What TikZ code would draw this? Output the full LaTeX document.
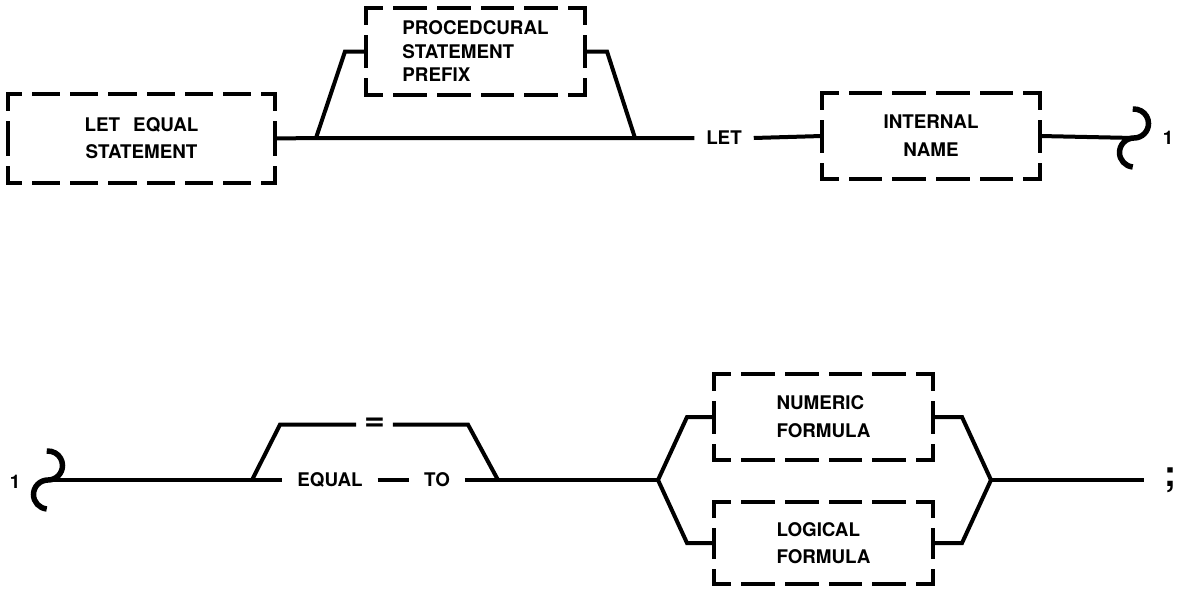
\documentclass[tikz,border=0pt]{standalone}
\usepackage{fontspec}
\usepackage{graphicx}
\setmainfont{TeX Gyre Heros}
\usetikzlibrary{calc}

% stroke width of the dashed frames
\def\bw{4.6}
% one side of a dashed frame: dashes spread evenly, a dash centred on each corner
\newcommand\dashedside[3]{%
  \pgfpointdiff{\pgfpointanchor{#1}{#2}}{\pgfpointanchor{#1}{#3}}%
  \pgfgetlastxy{\dsx}{\dsy}%
  \pgfmathsetmacro\dslen{veclen(\dsx,\dsy)}%
  \pgfmathsetmacro\dsn{max(1,round(\dslen/40))}%
  \pgfmathsetmacro\dson{\dslen/\dsn-10-\bw}%
  \pgfmathsetmacro\dsoff{10+\bw}%
  \pgfmathsetmacro\dsph{\dson/2}%
  \draw[boxline, dash pattern=on \dson pt off \dsoff pt, dash phase=\dsph pt]
    (#1.#2) -- (#1.#3);}
\newcommand\dashedframe[1]{%
  \dashedside{#1}{north west}{north east}%
  \dashedside{#1}{north east}{south east}%
  \dashedside{#1}{south east}{south west}%
  \dashedside{#1}{south west}{north west}}

\begin{document}
\begin{tikzpicture}[x=1pt, y=-1pt,
  every node/.style={font=\fontsize{18.8}{23.5}\selectfont\bfseries, outer sep=0pt},
  wire/.style={line width=4pt, line join=miter},
  hookline/.style={line width=5.5pt},
  boxline/.style={line width=\bw pt, line cap=rect},
  syntaxbox/.style={inner sep=0pt, minimum width=#1},
  term/.style={inner ysep=0pt, inner xsep=12pt, text height=13.3pt, text depth=0pt}]

\useasboundingbox (0,0) rectangle (1177,592);

% ---------- first line ----------
\node[syntaxbox=267pt, minimum height=89pt, align=center] (b1) at (141.5,138.5)
  {LET\hspace{0.7em}EQUAL\\[3.5pt]STATEMENT};
\node[syntaxbox=219pt, minimum height=87pt, align=left] (b2) at (475.5,51.5)
  {PROCEDCURAL\\STATEMENT\\PREFIX};
\node[term] (let) at (724,138) {LET};
\node[syntaxbox=218pt, minimum height=86pt, align=center] (b3) at (931,136)
  {INTERNAL\\[4.5pt]NAME};
\node (c1) at (1168,138) {1};

\coordinate (s1) at (316,138);
\coordinate (j1) at (635,138);
\coordinate (h1) at (1134,138);

\draw[wire] (b1.east) -- (s1) -- (j1) -- (let.west);
\draw[wire] (let.east) -- (b3.west);
\draw[wire] (s1) -- ([xshift=-21pt]b2.west) -- (b2.west);
\draw[wire] (b2.east) -- ([xshift=22pt]b2.east) -- (j1);
\draw[wire] (b3.east) -- (h1);
\draw[hookline] (h1) arc[start angle=-90, end angle=95, radius=14.5pt];
\draw[hookline] (h1) arc[start angle=90, end angle=265, radius=14.5pt];

% ---------- second line ----------
\node (c2) at (15,482) {1};
\node[term, inner xsep=15pt] (equal) at (330,480) {EQUAL};
\node[term, inner xsep=15pt] (to) at (437,480) {TO};
\node[inner xsep=8pt, inner ysep=0pt] (eq) at (374.5,424.5)
  {\scalebox{1.9}[1.7]{=}};
\node[syntaxbox=219pt, minimum height=86pt, align=left] (b4) at (823.5,417)
  {NUMERIC\\[4.5pt]FORMULA};
\node[syntaxbox=219pt, minimum height=82pt, align=left] (b5) at (823.5,543)
  {LOGICAL\\[4pt]FORMULA};
\node[inner xsep=20pt, inner ysep=0pt] (semi) at (1170,480)
  {\fontsize{36}{36}\selectfont;};

\coordinate (h2) at (48,480);
\coordinate (s2) at (252,480);
\coordinate (j2) at (498,480);
\coordinate (s3) at (658,480);
\coordinate (j3) at (991,480);

\draw[hookline] (h2) arc[start angle=-90, end angle=95, radius=14.5pt];
\draw[hookline] (h2) arc[start angle=90, end angle=265, radius=14.5pt];
\draw[wire] (h2) -- (s2) -- (equal.west);
\draw[wire] (equal.east) -- (to.west);
\draw[wire] (to.east) -- (j2) -- (s3);
\draw[wire] (s2) -- ([xshift=-76pt]eq.west) -- (eq.west);
\draw[wire] (eq.east) -- ([xshift=75pt]eq.east) -- (j2);
\draw[wire] (s3) -- ([xshift=-27pt]b4.west) -- (b4.west);
\draw[wire] (s3) -- ([xshift=-27pt]b5.west) -- (b5.west);
\draw[wire] (b4.east) -- ([xshift=29pt]b4.east) -- (j3);
\draw[wire] (b5.east) -- ([xshift=29pt]b5.east) -- (j3);
\draw[wire] (j3) -- (semi.west);

% ---------- dashed frames ----------
\dashedframe{b1}
\dashedframe{b2}
\dashedframe{b3}
\dashedframe{b4}
\dashedframe{b5}
\end{tikzpicture}
\end{document}
